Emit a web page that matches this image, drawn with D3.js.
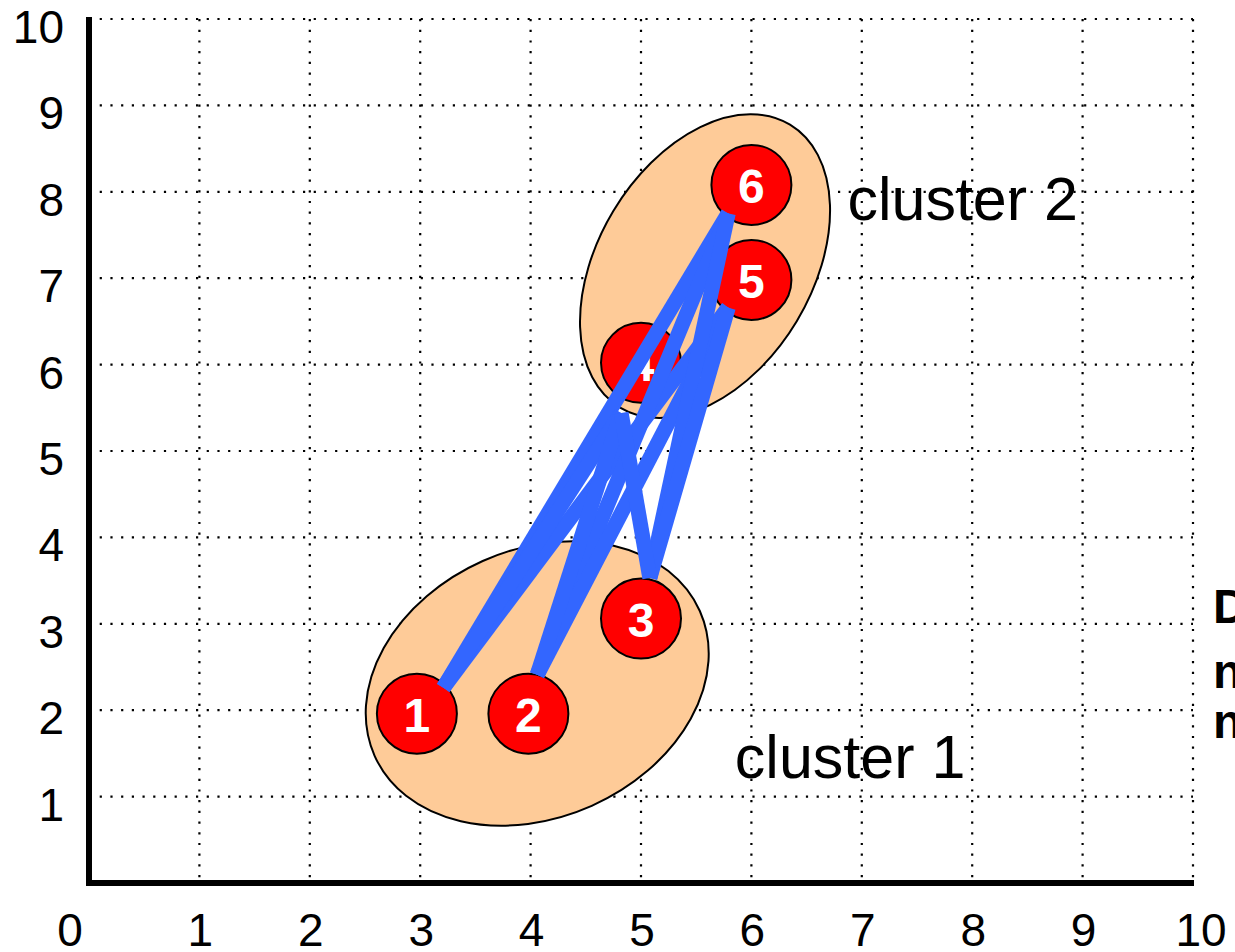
<!DOCTYPE html>
<html>
<head>
<meta charset="utf-8">
<script src="https://cdn.jsdelivr.net/npm/d3@7"></script>
<style>
  body { margin: 0; background: #fff; overflow: hidden; }
  text { font-family: "Liberation Sans", Arial, sans-serif; }
</style>
</head>
<body>
<div id="chart"></div>
<script>
// tick labels
var xTicks = [0, 1, 2, 3, 4, 5, 6, 7, 8, 9, 10];
var yTicks = [1, 2, 3, 4, 5, 6, 7, 8, 9, 10];

// points (data units)
var nodeIds = [1, 2, 3, 4, 5, 6];
var nodeX = [2.97, 3.98, 5, 5, 6, 6];
var nodeY = [1.96, 1.96, 3.06, 6.02, 6.98, 8.08];

// where the links touch each point (data units)
var anchorX = [3.21, 4.06, 5.08, 4.82, 5.79, 5.79];
var anchorY = [2.26, 2.41, 3.53, 5.44, 6.66, 7.75];

// every pair between cluster 1 and cluster 2
var linkFrom = [1, 1, 1, 2, 2, 2, 3, 3, 3];
var linkTo   = [6, 5, 4, 6, 5, 4, 6, 5, 4];

// clusters
var clusterNames = ["cluster 1", "cluster 2"];
var clusterCx = [4.06, 5.58];
var clusterCy = [2.31, 7.14];
var clusterLabelX = [5.85, 6.87];
var clusterLabelY = [1.21, 7.67];

// clipped note at the right edge
var sideText = ["D", "n", "n"];

var width = 1235;
var height = 952;

var x = d3.scaleLinear().domain([0, 10]).range([89, 1193]);
var y = d3.scaleLinear().domain([0, 10]).range([883, 19]);

var ellipseRx = [178, 165];
var ellipseRy = [134, 107];
var ellipseRot = [-24, -59];

var svg = d3.select("#chart")
  .append("svg")
  .attr("width", width)
  .attr("height", height);

/* grid */
var grid = svg.append("g")
  .attr("stroke", "#000")
  .attr("stroke-width", 2.2)
  .attr("stroke-dasharray", "2.2,8.5");

grid.selectAll(".hgrid")
  .data(yTicks).enter()
  .append("line")
  .attr("class", "hgrid")
  .attr("x1", x(0)).attr("x2", x(10))
  .attr("y1", d => y(d)).attr("y2", d => y(d));

grid.selectAll(".vgrid")
  .data(xTicks.slice(1)).enter()
  .append("line")
  .attr("class", "vgrid")
  .attr("x1", d => x(d)).attr("x2", d => x(d))
  .attr("y1", y(10)).attr("y2", y(0));

/* axes */
svg.append("line")
  .attr("x1", x(0)).attr("x2", x(0))
  .attr("y1", y(10) - 2).attr("y2", y(0) + 3)
  .attr("stroke", "#000").attr("stroke-width", 6);

svg.append("line")
  .attr("x1", x(0) - 3).attr("x2", x(10) + 1)
  .attr("y1", y(0)).attr("y2", y(0))
  .attr("stroke", "#000").attr("stroke-width", 6);

svg.selectAll(".ylab")
  .data(yTicks).enter()
  .append("text")
  .attr("class", "ylab")
  .attr("x", 64)
  .attr("y", d => y(d) + 24)
  .attr("text-anchor", "end")
  .style("font-size", "46px")
  .text(d => d);

svg.selectAll(".xlab")
  .data(xTicks).enter()
  .append("text")
  .attr("class", "xlab")
  .attr("x", d => d === 0 ? x(d) - 19 : x(d) + (d === 10 ? 8 : 1))
  .attr("y", 946)
  .attr("text-anchor", "middle")
  .style("font-size", "46px")
  .text(d => d);

/* cluster ellipses */
svg.selectAll(".cluster")
  .data(clusterNames).enter()
  .append("ellipse")
  .attr("class", "cluster")
  .attr("transform", (d, i) => `translate(${x(clusterCx[i])},${y(clusterCy[i])}) rotate(${ellipseRot[i]})`)
  .attr("rx", (d, i) => ellipseRx[i])
  .attr("ry", (d, i) => ellipseRy[i])
  .attr("fill", "#FECB98")
  .attr("stroke", "#000")
  .attr("stroke-width", 2);

/* nodes */
var nodes = svg.selectAll(".node")
  .data(nodeIds).enter()
  .append("g")
  .attr("class", "node")
  .attr("transform", (d, i) => `translate(${x(nodeX[i])},${y(nodeY[i])})`);

nodes.append("circle")
  .attr("r", 40)
  .attr("fill", "#FF0000")
  .attr("stroke", "#000")
  .attr("stroke-width", 2);

nodes.append("text")
  .attr("y", 18)
  .attr("text-anchor", "middle")
  .attr("fill", "#fff")
  .style("font-size", "48px")
  .style("font-weight", "bold")
  .text(d => d);

/* links between the clusters */
svg.selectAll(".link")
  .data(linkFrom).enter()
  .append("line")
  .attr("class", "link")
  .attr("x1", d => x(anchorX[d - 1]))
  .attr("y1", d => y(anchorY[d - 1]))
  .attr("x2", (d, i) => x(anchorX[linkTo[i] - 1]))
  .attr("y2", (d, i) => y(anchorY[linkTo[i] - 1]))
  .attr("stroke", "#3366FF")
  .attr("stroke-width", 15);

/* cluster labels */
svg.selectAll(".clabel")
  .data(clusterNames).enter()
  .append("text")
  .attr("class", "clabel")
  .attr("x", (d, i) => x(clusterLabelX[i]))
  .attr("y", (d, i) => y(clusterLabelY[i]))
  .style("font-size", "61px")
  .text(d => d);

svg.selectAll(".side")
  .data(sideText).enter()
  .append("text")
  .attr("class", "side")
  .attr("x", 1213)
  .attr("y", (d, i) => [623, 688, 738][i])
  .style("font-size", "48px")
  .style("font-weight", "bold")
  .text(d => d);
</script>
</body>
</html>
